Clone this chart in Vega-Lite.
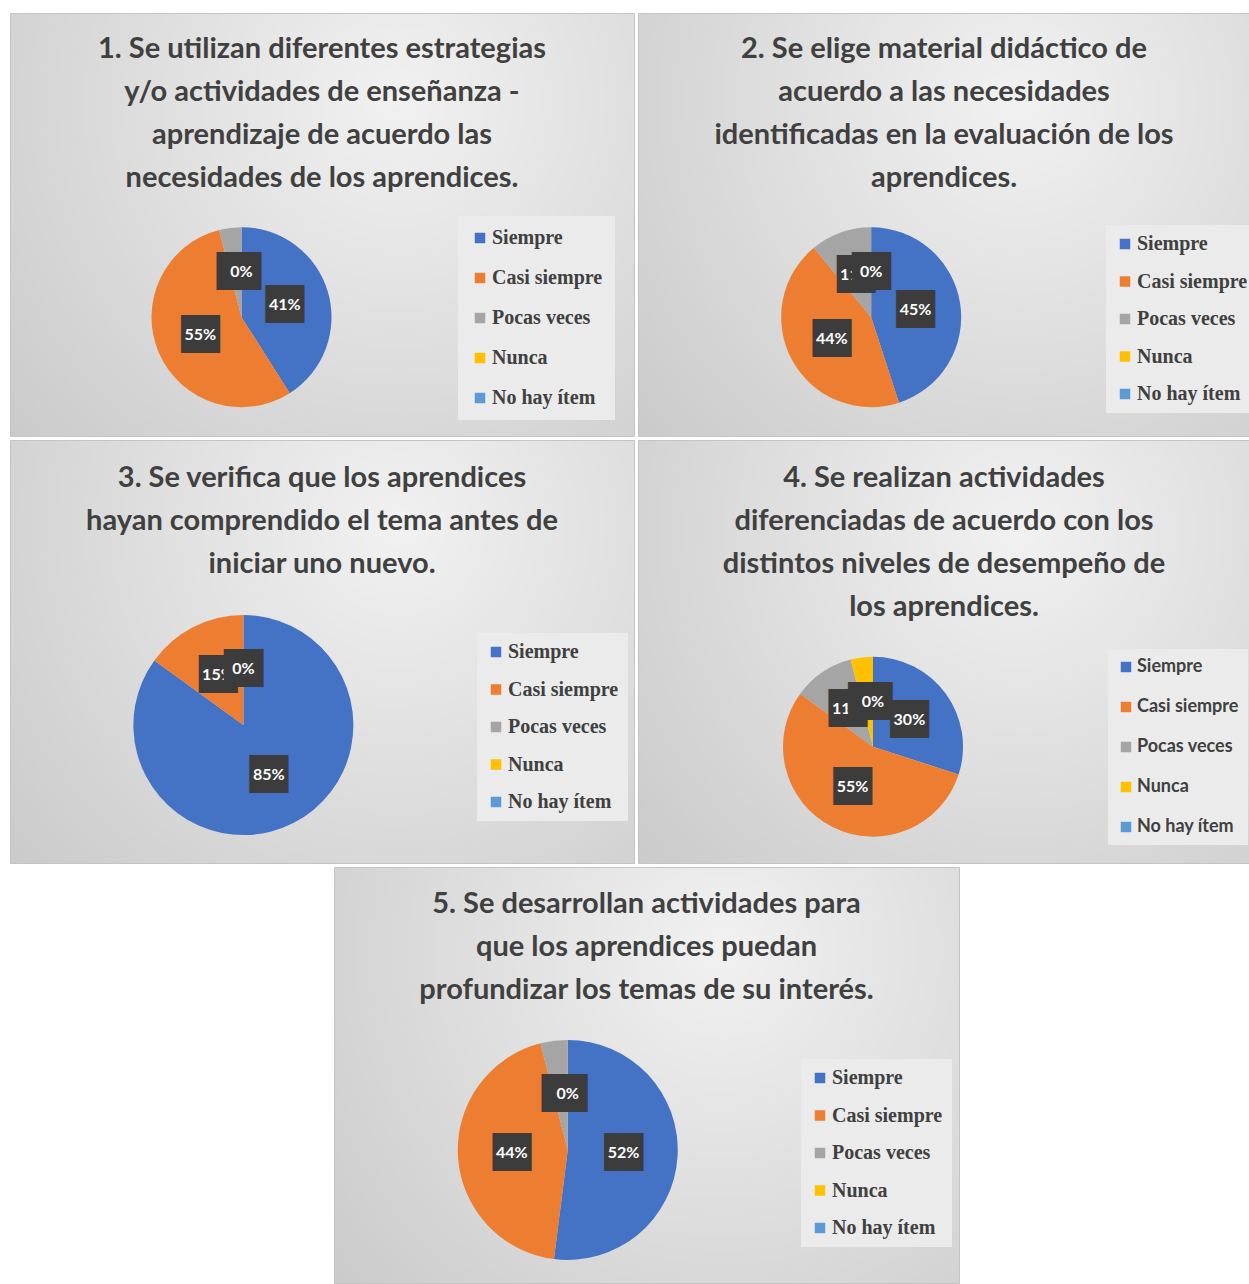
{
  "$schema": "https://vega.github.io/schema/vega-lite/v6.json",
  "padding": {"left": 9, "top": 12, "right": 0, "bottom": 0},
  "background": "white",
  "data": {"values": [
    {"q": 1, "k": 1, "cat": "Siempre", "v": 0.41},
    {"q": 1, "k": 2, "cat": "Casi siempre", "v": 0.55},
    {"q": 1, "k": 3, "cat": "Pocas veces", "v": 0.04},
    {"q": 1, "k": 4, "cat": "Nunca", "v": 0},
    {"q": 1, "k": 5, "cat": "No hay ítem", "v": 0},
    {"q": 2, "k": 1, "cat": "Siempre", "v": 0.45},
    {"q": 2, "k": 2, "cat": "Casi siempre", "v": 0.44},
    {"q": 2, "k": 3, "cat": "Pocas veces", "v": 0.11},
    {"q": 2, "k": 4, "cat": "Nunca", "v": 0},
    {"q": 2, "k": 5, "cat": "No hay ítem", "v": 0},
    {"q": 3, "k": 1, "cat": "Siempre", "v": 0.85},
    {"q": 3, "k": 2, "cat": "Casi siempre", "v": 0.15},
    {"q": 3, "k": 3, "cat": "Pocas veces", "v": 0},
    {"q": 3, "k": 4, "cat": "Nunca", "v": 0},
    {"q": 3, "k": 5, "cat": "No hay ítem", "v": 0},
    {"q": 4, "k": 1, "cat": "Siempre", "v": 0.30},
    {"q": 4, "k": 2, "cat": "Casi siempre", "v": 0.55},
    {"q": 4, "k": 3, "cat": "Pocas veces", "v": 0.11},
    {"q": 4, "k": 4, "cat": "Nunca", "v": 0.04},
    {"q": 4, "k": 5, "cat": "No hay ítem", "v": 0},
    {"q": 5, "k": 1, "cat": "Siempre", "v": 0.52},
    {"q": 5, "k": 2, "cat": "Casi siempre", "v": 0.44},
    {"q": 5, "k": 3, "cat": "Pocas veces", "v": 0.04},
    {"q": 5, "k": 4, "cat": "Nunca", "v": 0},
    {"q": 5, "k": 5, "cat": "No hay ítem", "v": 0}
  ]},
  "config": {
    "title": {"font": "Lato", "fontSize": 29, "fontWeight": "bold", "color": "#404040", "lineHeight": 43, "anchor": "middle"},
    "legend": {"symbolType": "square", "symbolSize": 110, "symbolStrokeWidth": 0, "labelFont": "Liberation Serif", "labelFontWeight": "bold", "labelFontSize": 20, "labelColor": "#404040", "fillColor": "#ebebeb", "padding": 9, "labelLimit": 300, "labelOffset": 2}
  },
  "spacing": 2,
  "resolve": {"scale": {"x": "independent", "y": "independent", "theta": "independent", "color": "independent"}, "legend": {"color": "independent"}},
  "vconcat": [
    {
      "spacing": 4,
      "bounds": "flush",
      "resolve": {"scale": {"x": "independent", "y": "independent", "theta": "independent", "color": "independent"}, "legend": {"color": "independent"}},
      "hconcat": [
        {
          "width": 624, "height": 423,
          "view": {"fill": {"gradient": "radial", "x1": 0.62, "y1": 0.3, "r1": 0, "x2": 0.62, "y2": 0.3, "r2": 0.85, "stops": [{"offset": 0, "color": "#f1f1f1"}, {"offset": 1, "color": "#c9c9c9"}]}, "stroke": "#c4c4c4"},
          "title": {"text": ["1. Se utilizan diferentes estrategias", "y/o actividades de enseñanza -", "aprendizaje de acuerdo las", "necesidades de los aprendices."], "offset": -180},
          "transform": [{"filter": "datum.q == 1"}],
          "encoding": {
            "x": {"datum": 0.371, "type": "quantitative", "scale": {"domain": [0, 1]}, "axis": null},
            "y": {"datum": 0.719, "type": "quantitative", "scale": {"domain": [0, 1], "reverse": true}, "axis": null},
            "theta": {"field": "v", "type": "quantitative", "stack": true},
            "order": {"field": "k", "type": "quantitative"},
            "detail": {"field": "cat"}
          },
          "layer": [
            {"mark": {"type": "arc", "radius": 90}, "encoding": {"color": {"field": "cat", "type": "nominal", "scale": {"domain": ["Siempre", "Casi siempre", "Pocas veces", "Nunca", "No hay ítem"], "range": ["#4472C4", "#ED7D31", "#A5A5A5", "#FFC000", "#5B9BD5"]}, "legend": {"title": null, "orient": "none", "legendX": 448, "legendY": 203, "rowPadding": 20, "padding": 12}}}},
            {"mark": {"type": "text", "radius": 45, "text": "██", "font": "DejaVu Sans Mono", "fontSize": 32, "color": "#3c3c3c"}, "encoding": {"opacity": {"condition": {"test": "datum.k <= 2", "value": 1}, "value": 0}}},
            {"mark": {"type": "text", "radius": 45, "font": "Lato", "fontWeight": "bold", "fontSize": 16, "color": "white"}, "encoding": {"text": {"field": "v", "type": "quantitative", "format": ".0%"}, "opacity": {"condition": {"test": "datum.k <= 2", "value": 1}, "value": 0}}},
            {"mark": {"type": "text", "radius": 45, "text": "██", "font": "DejaVu Sans Mono", "fontSize": 32, "color": "#3c3c3c"}, "encoding": {"opacity": {"condition": {"test": "datum.k == 3", "value": 1}, "value": 0}}},
            {"mark": {"type": "text", "radius": 45, "font": "Lato", "fontWeight": "bold", "fontSize": 16, "color": "white"}, "encoding": {"text": {"field": "v", "type": "quantitative", "format": ".0%"}, "opacity": {"condition": {"test": "datum.k == 3", "value": 1}, "value": 0}}},
            {"mark": {"type": "text", "radius": 45, "text": "██", "font": "DejaVu Sans Mono", "fontSize": 32, "color": "#3c3c3c"}, "encoding": {"opacity": {"condition": {"test": "datum.k == 4", "value": 1}, "value": 0}}},
            {"mark": {"type": "text", "radius": 45, "font": "Lato", "fontWeight": "bold", "fontSize": 16, "color": "white"}, "encoding": {"text": {"field": "v", "type": "quantitative", "format": ".0%"}, "opacity": {"condition": {"test": "datum.k == 4", "value": 1}, "value": 0}}},
            {"mark": {"type": "text", "radius": 45, "text": "██", "font": "DejaVu Sans Mono", "fontSize": 32, "color": "#3c3c3c"}, "encoding": {"opacity": {"condition": {"test": "datum.k == 5", "value": 1}, "value": 0}}},
            {"mark": {"type": "text", "radius": 45, "font": "Lato", "fontWeight": "bold", "fontSize": 16, "color": "white"}, "encoding": {"text": {"field": "v", "type": "quantitative", "format": ".0%"}, "opacity": {"condition": {"test": "datum.k == 5", "value": 1}, "value": 0}}}
          ]
        },
        {
          "width": 612, "height": 423,
          "view": {"fill": {"gradient": "radial", "x1": 0.62, "y1": 0.3, "r1": 0, "x2": 0.62, "y2": 0.3, "r2": 0.85, "stops": [{"offset": 0, "color": "#f1f1f1"}, {"offset": 1, "color": "#c9c9c9"}]}, "stroke": "#c4c4c4"},
          "title": {"text": ["2. Se elige material didáctico de", "acuerdo a las necesidades", "identificadas en la evaluación de los", "aprendices."], "offset": -180},
          "transform": [{"filter": "datum.q == 2"}],
          "encoding": {
            "x": {"datum": 0.381, "type": "quantitative", "scale": {"domain": [0, 1]}, "axis": null},
            "y": {"datum": 0.719, "type": "quantitative", "scale": {"domain": [0, 1], "reverse": true}, "axis": null},
            "theta": {"field": "v", "type": "quantitative", "stack": true},
            "order": {"field": "k", "type": "quantitative"},
            "detail": {"field": "cat"}
          },
          "layer": [
            {"mark": {"type": "arc", "radius": 90}, "encoding": {"color": {"field": "cat", "type": "nominal", "scale": {"domain": ["Siempre", "Casi siempre", "Pocas veces", "Nunca", "No hay ítem"], "range": ["#4472C4", "#ED7D31", "#A5A5A5", "#FFC000", "#5B9BD5"]}, "legend": {"title": null, "orient": "none", "legendX": 468, "legendY": 212, "rowPadding": 17.5}}}},
            {"mark": {"type": "text", "radius": 45, "text": "██", "font": "DejaVu Sans Mono", "fontSize": 32, "color": "#3c3c3c"}, "encoding": {"opacity": {"condition": {"test": "datum.k <= 2", "value": 1}, "value": 0}}},
            {"mark": {"type": "text", "radius": 45, "font": "Lato", "fontWeight": "bold", "fontSize": 16, "color": "white"}, "encoding": {"text": {"field": "v", "type": "quantitative", "format": ".0%"}, "opacity": {"condition": {"test": "datum.k <= 2", "value": 1}, "value": 0}}},
            {"mark": {"type": "text", "radius": 45, "text": "██", "font": "DejaVu Sans Mono", "fontSize": 32, "color": "#3c3c3c"}, "encoding": {"opacity": {"condition": {"test": "datum.k == 3", "value": 1}, "value": 0}}},
            {"mark": {"type": "text", "radius": 45, "font": "Lato", "fontWeight": "bold", "fontSize": 16, "color": "white"}, "encoding": {"text": {"field": "v", "type": "quantitative", "format": ".0%"}, "opacity": {"condition": {"test": "datum.k == 3", "value": 1}, "value": 0}}},
            {"mark": {"type": "text", "radius": 45, "text": "██", "font": "DejaVu Sans Mono", "fontSize": 32, "color": "#3c3c3c"}, "encoding": {"opacity": {"condition": {"test": "datum.k == 4", "value": 1}, "value": 0}}},
            {"mark": {"type": "text", "radius": 45, "font": "Lato", "fontWeight": "bold", "fontSize": 16, "color": "white"}, "encoding": {"text": {"field": "v", "type": "quantitative", "format": ".0%"}, "opacity": {"condition": {"test": "datum.k == 4", "value": 1}, "value": 0}}},
            {"mark": {"type": "text", "radius": 45, "text": "██", "font": "DejaVu Sans Mono", "fontSize": 32, "color": "#3c3c3c"}, "encoding": {"opacity": {"condition": {"test": "datum.k == 5", "value": 1}, "value": 0}}},
            {"mark": {"type": "text", "radius": 45, "font": "Lato", "fontWeight": "bold", "fontSize": 16, "color": "white"}, "encoding": {"text": {"field": "v", "type": "quantitative", "format": ".0%"}, "opacity": {"condition": {"test": "datum.k == 5", "value": 1}, "value": 0}}}
          ]
        }
      ]
    },
    {
      "spacing": 4,
      "bounds": "flush",
      "resolve": {"scale": {"x": "independent", "y": "independent", "theta": "independent", "color": "independent"}, "legend": {"color": "independent"}},
      "hconcat": [
        {
          "width": 624, "height": 423,
          "view": {"fill": {"gradient": "radial", "x1": 0.62, "y1": 0.3, "r1": 0, "x2": 0.62, "y2": 0.3, "r2": 0.85, "stops": [{"offset": 0, "color": "#f1f1f1"}, {"offset": 1, "color": "#c9c9c9"}]}, "stroke": "#c4c4c4"},
          "title": {"text": ["3. Se verifica que los aprendices", "hayan comprendido el tema antes de", "iniciar uno nuevo."], "offset": -139},
          "transform": [{"filter": "datum.q == 3"}],
          "encoding": {
            "x": {"datum": 0.374, "type": "quantitative", "scale": {"domain": [0, 1]}, "axis": null},
            "y": {"datum": 0.674, "type": "quantitative", "scale": {"domain": [0, 1], "reverse": true}, "axis": null},
            "theta": {"field": "v", "type": "quantitative", "stack": true},
            "order": {"field": "k", "type": "quantitative"},
            "detail": {"field": "cat"}
          },
          "layer": [
            {"mark": {"type": "arc", "radius": 110}, "encoding": {"color": {"field": "cat", "type": "nominal", "scale": {"domain": ["Siempre", "Casi siempre", "Pocas veces", "Nunca", "No hay ítem"], "range": ["#4472C4", "#ED7D31", "#A5A5A5", "#FFC000", "#5B9BD5"]}, "legend": {"title": null, "orient": "none", "legendX": 467, "legendY": 193, "rowPadding": 17.5}}}},
            {"mark": {"type": "text", "radius": 56, "text": "██", "font": "DejaVu Sans Mono", "fontSize": 32, "color": "#3c3c3c"}, "encoding": {"opacity": {"condition": {"test": "datum.k <= 2", "value": 1}, "value": 0}}},
            {"mark": {"type": "text", "radius": 56, "font": "Lato", "fontWeight": "bold", "fontSize": 16, "color": "white"}, "encoding": {"text": {"field": "v", "type": "quantitative", "format": ".0%"}, "opacity": {"condition": {"test": "datum.k <= 2", "value": 1}, "value": 0}}},
            {"mark": {"type": "text", "radius": 56, "text": "██", "font": "DejaVu Sans Mono", "fontSize": 32, "color": "#3c3c3c"}, "encoding": {"opacity": {"condition": {"test": "datum.k == 3", "value": 1}, "value": 0}}},
            {"mark": {"type": "text", "radius": 56, "font": "Lato", "fontWeight": "bold", "fontSize": 16, "color": "white"}, "encoding": {"text": {"field": "v", "type": "quantitative", "format": ".0%"}, "opacity": {"condition": {"test": "datum.k == 3", "value": 1}, "value": 0}}},
            {"mark": {"type": "text", "radius": 56, "text": "██", "font": "DejaVu Sans Mono", "fontSize": 32, "color": "#3c3c3c"}, "encoding": {"opacity": {"condition": {"test": "datum.k == 4", "value": 1}, "value": 0}}},
            {"mark": {"type": "text", "radius": 56, "font": "Lato", "fontWeight": "bold", "fontSize": 16, "color": "white"}, "encoding": {"text": {"field": "v", "type": "quantitative", "format": ".0%"}, "opacity": {"condition": {"test": "datum.k == 4", "value": 1}, "value": 0}}},
            {"mark": {"type": "text", "radius": 56, "text": "██", "font": "DejaVu Sans Mono", "fontSize": 32, "color": "#3c3c3c"}, "encoding": {"opacity": {"condition": {"test": "datum.k == 5", "value": 1}, "value": 0}}},
            {"mark": {"type": "text", "radius": 56, "font": "Lato", "fontWeight": "bold", "fontSize": 16, "color": "white"}, "encoding": {"text": {"field": "v", "type": "quantitative", "format": ".0%"}, "opacity": {"condition": {"test": "datum.k == 5", "value": 1}, "value": 0}}}
          ]
        },
        {
          "width": 612, "height": 423,
          "view": {"fill": {"gradient": "radial", "x1": 0.62, "y1": 0.3, "r1": 0, "x2": 0.62, "y2": 0.3, "r2": 0.85, "stops": [{"offset": 0, "color": "#f1f1f1"}, {"offset": 1, "color": "#c9c9c9"}]}, "stroke": "#c4c4c4"},
          "title": {"text": ["4. Se realizan actividades", "diferenciadas de acuerdo con los", "distintos niveles de desempeño de", "los aprendices."], "offset": -182},
          "transform": [{"filter": "datum.q == 4"}],
          "encoding": {
            "x": {"datum": 0.384, "type": "quantitative", "scale": {"domain": [0, 1]}, "axis": null},
            "y": {"datum": 0.725, "type": "quantitative", "scale": {"domain": [0, 1], "reverse": true}, "axis": null},
            "theta": {"field": "v", "type": "quantitative", "stack": true},
            "order": {"field": "k", "type": "quantitative"},
            "detail": {"field": "cat"}
          },
          "layer": [
            {"mark": {"type": "arc", "radius": 90}, "encoding": {"color": {"field": "cat", "type": "nominal", "scale": {"domain": ["Siempre", "Casi siempre", "Pocas veces", "Nunca", "No hay ítem"], "range": ["#4472C4", "#ED7D31", "#A5A5A5", "#FFC000", "#5B9BD5"]}, "legend": {"title": null, "orient": "none", "legendX": 470, "legendY": 209, "rowPadding": 22, "labelFont": "Lato", "labelFontSize": 18}}}},
            {"mark": {"type": "text", "radius": 45, "text": "██", "font": "DejaVu Sans Mono", "fontSize": 32, "color": "#3c3c3c"}, "encoding": {"opacity": {"condition": {"test": "datum.k <= 2", "value": 1}, "value": 0}}},
            {"mark": {"type": "text", "radius": 45, "font": "Lato", "fontWeight": "bold", "fontSize": 16, "color": "white"}, "encoding": {"text": {"field": "v", "type": "quantitative", "format": ".0%"}, "opacity": {"condition": {"test": "datum.k <= 2", "value": 1}, "value": 0}}},
            {"mark": {"type": "text", "radius": 45, "text": "██", "font": "DejaVu Sans Mono", "fontSize": 32, "color": "#3c3c3c"}, "encoding": {"opacity": {"condition": {"test": "datum.k == 3", "value": 1}, "value": 0}}},
            {"mark": {"type": "text", "radius": 45, "font": "Lato", "fontWeight": "bold", "fontSize": 16, "color": "white"}, "encoding": {"text": {"field": "v", "type": "quantitative", "format": ".0%"}, "opacity": {"condition": {"test": "datum.k == 3", "value": 1}, "value": 0}}},
            {"mark": {"type": "text", "radius": 45, "text": "██", "font": "DejaVu Sans Mono", "fontSize": 32, "color": "#3c3c3c"}, "encoding": {"opacity": {"condition": {"test": "datum.k == 4", "value": 1}, "value": 0}}},
            {"mark": {"type": "text", "radius": 45, "font": "Lato", "fontWeight": "bold", "fontSize": 16, "color": "white"}, "encoding": {"text": {"field": "v", "type": "quantitative", "format": ".0%"}, "opacity": {"condition": {"test": "datum.k == 4", "value": 1}, "value": 0}}},
            {"mark": {"type": "text", "radius": 45, "text": "██", "font": "DejaVu Sans Mono", "fontSize": 32, "color": "#3c3c3c"}, "encoding": {"opacity": {"condition": {"test": "datum.k == 5", "value": 1}, "value": 0}}},
            {"mark": {"type": "text", "radius": 45, "font": "Lato", "fontWeight": "bold", "fontSize": 16, "color": "white"}, "encoding": {"text": {"field": "v", "type": "quantitative", "format": ".0%"}, "opacity": {"condition": {"test": "datum.k == 5", "value": 1}, "value": 0}}}
          ]
        }
      ]
    },
    {
      "spacing": 323,
      "bounds": "flush",
      "resolve": {"scale": {"x": "independent", "y": "independent", "theta": "independent", "color": "independent"}, "legend": {"color": "independent"}},
      "hconcat": [
        {
          "width": 1, "height": 416,
          "view": {"stroke": null, "fill": null},
          "transform": [{"filter": "datum.q == 0"}],
          "mark": {"type": "point", "opacity": 0},
          "encoding": {}
        },
        {
          "width": 625, "height": 416,
          "view": {"fill": {"gradient": "radial", "x1": 0.62, "y1": 0.3, "r1": 0, "x2": 0.62, "y2": 0.3, "r2": 0.85, "stops": [{"offset": 0, "color": "#f1f1f1"}, {"offset": 1, "color": "#c9c9c9"}]}, "stroke": "#c4c4c4"},
          "title": {"text": ["5. Se desarrollan actividades para", "que los aprendices puedan", "profundizar los temas de su interés."], "offset": -138},
          "transform": [{"filter": "datum.q == 5"}],
          "encoding": {
            "x": {"datum": 0.374, "type": "quantitative", "scale": {"domain": [0, 1]}, "axis": null},
            "y": {"datum": 0.680, "type": "quantitative", "scale": {"domain": [0, 1], "reverse": true}, "axis": null},
            "theta": {"field": "v", "type": "quantitative", "stack": true},
            "order": {"field": "k", "type": "quantitative"},
            "detail": {"field": "cat"}
          },
          "layer": [
            {"mark": {"type": "arc", "radius": 110}, "encoding": {"color": {"field": "cat", "type": "nominal", "scale": {"domain": ["Siempre", "Casi siempre", "Pocas veces", "Nunca", "No hay ítem"], "range": ["#4472C4", "#ED7D31", "#A5A5A5", "#FFC000", "#5B9BD5"]}, "legend": {"title": null, "orient": "none", "legendX": 467, "legendY": 192, "rowPadding": 17.5}}}},
            {"mark": {"type": "text", "radius": 56, "text": "██", "font": "DejaVu Sans Mono", "fontSize": 32, "color": "#3c3c3c"}, "encoding": {"opacity": {"condition": {"test": "datum.k <= 2", "value": 1}, "value": 0}}},
            {"mark": {"type": "text", "radius": 56, "font": "Lato", "fontWeight": "bold", "fontSize": 16, "color": "white"}, "encoding": {"text": {"field": "v", "type": "quantitative", "format": ".0%"}, "opacity": {"condition": {"test": "datum.k <= 2", "value": 1}, "value": 0}}},
            {"mark": {"type": "text", "radius": 56, "text": "██", "font": "DejaVu Sans Mono", "fontSize": 32, "color": "#3c3c3c"}, "encoding": {"opacity": {"condition": {"test": "datum.k == 3", "value": 1}, "value": 0}}},
            {"mark": {"type": "text", "radius": 56, "font": "Lato", "fontWeight": "bold", "fontSize": 16, "color": "white"}, "encoding": {"text": {"field": "v", "type": "quantitative", "format": ".0%"}, "opacity": {"condition": {"test": "datum.k == 3", "value": 1}, "value": 0}}},
            {"mark": {"type": "text", "radius": 56, "text": "██", "font": "DejaVu Sans Mono", "fontSize": 32, "color": "#3c3c3c"}, "encoding": {"opacity": {"condition": {"test": "datum.k == 4", "value": 1}, "value": 0}}},
            {"mark": {"type": "text", "radius": 56, "font": "Lato", "fontWeight": "bold", "fontSize": 16, "color": "white"}, "encoding": {"text": {"field": "v", "type": "quantitative", "format": ".0%"}, "opacity": {"condition": {"test": "datum.k == 4", "value": 1}, "value": 0}}},
            {"mark": {"type": "text", "radius": 56, "text": "██", "font": "DejaVu Sans Mono", "fontSize": 32, "color": "#3c3c3c"}, "encoding": {"opacity": {"condition": {"test": "datum.k == 5", "value": 1}, "value": 0}}},
            {"mark": {"type": "text", "radius": 56, "font": "Lato", "fontWeight": "bold", "fontSize": 16, "color": "white"}, "encoding": {"text": {"field": "v", "type": "quantitative", "format": ".0%"}, "opacity": {"condition": {"test": "datum.k == 5", "value": 1}, "value": 0}}}
          ]
        }
      ]
    }
  ]
}
